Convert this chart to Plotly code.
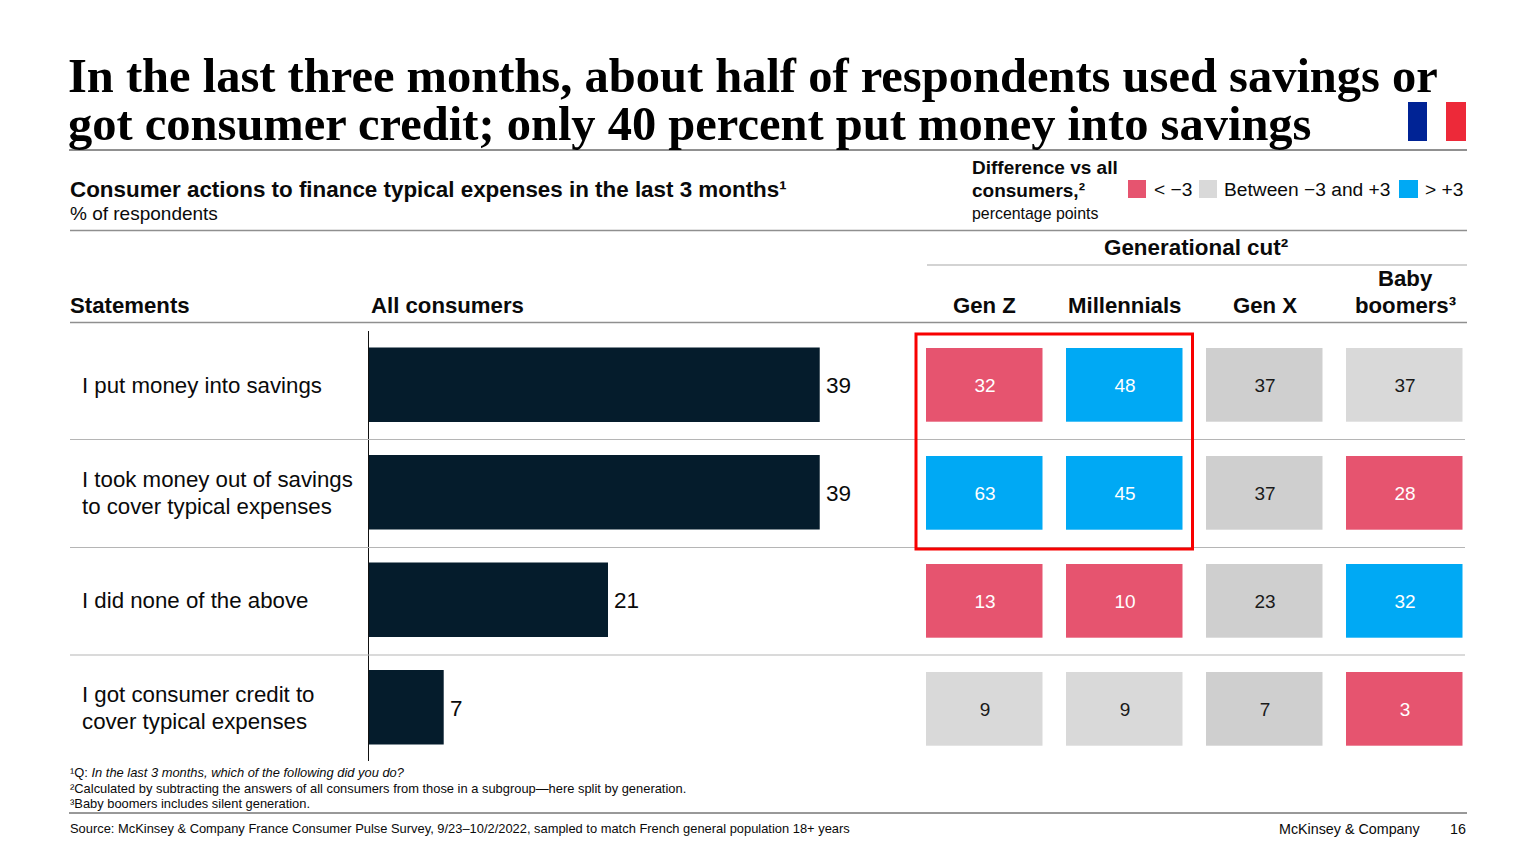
import plotly.graph_objects as go

W, H = 1536, 864
TITLE_LINES = ["In the last three months, about half of respondents used savings or",
               "got consumer credit; only 40 percent put money into savings"]
STATEMENTS = ["I put money into savings",
              "I took money out of savings<br>to cover typical expenses",
              "I did none of the above",
              "I got consumer credit to<br>cover typical expenses"]
ALL_LABELS = [39, 39, 21, 7]
ALL_BARS = [39, 39, 20.7, 6.5]
GENERATIONS = ["Gen Z", "Millennials", "Gen X", "Baby boomers"]
GEN_Z = [32, 63, 13, 9]
MILLENNIALS = [48, 45, 10, 9]
GEN_X = [37, 37, 23, 7]
BOOMERS = [37, 28, 32, 3]

RED, BLUE, GREY, GREY_X, NAVY = "#E6546F", "#00A9F4", "#D9D9D9", "#CFCFCF", "#051C2C"
SANS, SERIF = "Liberation Sans", "Liberation Serif"
INK = "#0a0a0a"


def px(x):
    return x / W


def py(y):
    return 1 - y / H


fig = go.Figure()
fig.add_trace(go.Bar(x=ALL_BARS, y=STATEMENTS, orientation="h", marker_color=NAVY, marker_line_width=0,
                     xaxis="x", yaxis="y", hoverinfo="skip"))

columns = [GEN_Z, MILLENNIALS, GEN_X, BOOMERS]


def klass(col, row):
    diff = columns[col][row] - ALL_LABELS[row]
    if diff < -3:
        return RED
    if diff > 3:
        return BLUE
    return GREY_X if col == 2 else GREY


for colour in [RED, BLUE, GREY, GREY_X]:
    z = [[columns[c][r] if klass(c, r) == colour else None for c in range(4)] for r in range(4)]
    fig.add_trace(go.Heatmap(z=z, x=GENERATIONS, y=STATEMENTS, xaxis="x2", yaxis="y2",
                             colorscale=[[0, colour], [1, colour]], showscale=False, zmin=0, zmax=100,
                             xgap=23.5, ygap=34.3, texttemplate="%{z}", hoverinfo="skip",
                             textfont=dict(family=SANS, size=19,
                                           color="#FFFFFF" if colour in (RED, BLUE) else "#1a1a1a")))

shapes = []


def line(x0, x1, y, color="#8c8c8c", width=1.0):
    shapes.append(dict(type="line", xref="paper", yref="paper", x0=px(x0), x1=px(x1), y0=py(y), y1=py(y),
                       line=dict(color=color, width=width)))


def rect(x0, x1, y0, y1, fill=None, stroke=None, width=0):
    shapes.append(dict(type="rect", xref="paper", yref="paper", x0=px(x0), x1=px(x1), y0=py(y0), y1=py(y1),
                       fillcolor=fill if fill else "rgba(0,0,0,0)",
                       line=dict(color=stroke if stroke else "rgba(0,0,0,0)", width=width)))


line(69, 1467, 150, "#222222", 1)
line(70, 1467, 230.5, "#8f8f8f", 1.5)
line(927, 1467, 265, "#a8a8a8", 1.2)
line(70, 1467, 322.5, "#8f8f8f", 1.5)
for yy in (439.5, 547.5, 655):
    line(70, 1465, yy, "#b5b5b5", 1.2)
line(69, 1467, 813, "#333333", 1)
rect(916, 1192.5, 334, 549, stroke="#F80000", width=3)
rect(1408, 1427, 102, 141, fill="#002395")
rect(1446, 1466, 102, 141, fill="#ED2939")
rect(1128, 1146, 180, 198, fill=RED)
rect(1199, 1217, 180, 198, fill=GREY)
rect(1399, 1418, 180, 198, fill=BLUE)

ann = []


def text(x, y, s, size, bold=False, anchor="left", color=INK, family=SANS):
    ann.append(dict(xref="paper", yref="paper", x=px(x), y=py(y), text=f"<b>{s}</b>" if bold else s,
                    showarrow=False, xanchor=anchor, yanchor="middle", align=anchor,
                    font=dict(family=family, size=size, color=color), borderpad=0, borderwidth=0))


text(68, 75.5, TITLE_LINES[0], 48.5, True, color="#000000", family=SERIF)
text(68, 124, TITLE_LINES[1], 48.5, True, color="#000000", family=SERIF)
text(69.5, 189, "Consumer actions to finance typical expenses in the last 3 months¹", 22.4, True)
text(69.5, 214, "% of respondents", 19)
text(971.5, 168, "Difference vs all", 19, True)
text(971.5, 190, "consumers,²", 19, True)
text(971.5, 213, "percentage points", 15.9)
text(1153.5, 189.5, "&lt; −3", 19.2)
text(1224, 189.5, "Between −3 and +3", 19.2)
text(1425, 189.5, "&gt; +3", 19.2)
text(1196, 247.5, "Generational cut²", 22.4, True, "center")
text(69.5, 305.5, "Statements", 22.2, True)
text(371, 305.5, "All consumers", 22.2, True)
text(984.5, 305.5, "Gen Z", 22.2, True, "center")
text(1124, 305.5, "Millennials", 22.2, True, "center")
text(1264.5, 305.5, "Gen X", 22.2, True, "center")
text(1405, 278.5, "Baby", 22.2, True, "center")
text(1405, 305.5, "boomers³", 22.2, True, "center")
text(69.5, 772.5, "¹Q: <i>In the last 3 months, which of the following did you do?</i>", 12.9)
text(69.5, 788.5, "²Calculated by subtracting the answers of all consumers from those in a subgroup—here split by generation.", 12.9)
text(69.5, 803.5, "³Baby boomers includes silent generation.", 12.9)
text(69.5, 828.5, "Source: McKinsey &amp; Company France Consumer Pulse Survey, 9/23–10/2/2022, sampled to match French general population 18+ years", 12.9)
text(1420, 829, "McKinsey &amp; Company", 14.3, anchor="right")
text(1466, 829, "16", 14.3, anchor="right")

for s in STATEMENTS:
    parts = s.split("<br>")
    for i, part in enumerate(parts):
        shift = -1 if len(parts) == 1 else (12.5 if i == 0 else -14.5)
        ann.append(dict(xref="paper", yref="y", x=px(80), y=s, yshift=shift, text=part, showarrow=False,
                        xanchor="left", yanchor="middle", align="left",
                        font=dict(family=SANS, size=22.25, color=INK)))

for s, v, lab in zip(STATEMENTS, ALL_BARS, ALL_LABELS):
    ann.append(dict(xref="x", yref="y", x=v, y=s, xshift=4, yshift=-1, text=str(lab), showarrow=False, xanchor="left",
                    yanchor="middle", font=dict(family=SANS, size=22.5, color=INK)))

BAR_L, BAR_R = 368.5, 900
fig.update_layout(
    width=W, height=H, margin=dict(l=0, r=0, t=0, b=0, pad=0), paper_bgcolor="white", plot_bgcolor="white",
    showlegend=False, bargap=0.307, shapes=shapes, annotations=ann,
    xaxis=dict(domain=[px(BAR_L), px(BAR_R)], range=[0, (BAR_R - BAR_L) / 11.57], visible=False, fixedrange=True),
    xaxis2=dict(domain=[px(915), px(1475)], range=[-0.5, 3.5], visible=False, anchor="y2", fixedrange=True,
                type="category", categoryarray=GENERATIONS),
    yaxis=dict(domain=[py(761), py(331)], range=[3.5, -0.5], type="category", categoryarray=STATEMENTS,
               showticklabels=False, ticks="", showgrid=False, zeroline=False, showline=True, linecolor="#111111",
               linewidth=1, anchor="x", fixedrange=True),
    yaxis2=dict(domain=[py(763.4), py(331)], range=[3.5, -0.5], type="category", categoryarray=STATEMENTS,
                visible=False, anchor="x2", fixedrange=True),
)
fig.write_html("out.html", config=dict(displayModeBar=False),
               post_script="document.body.style.margin='0';document.documentElement.style.overflow='hidden';")
